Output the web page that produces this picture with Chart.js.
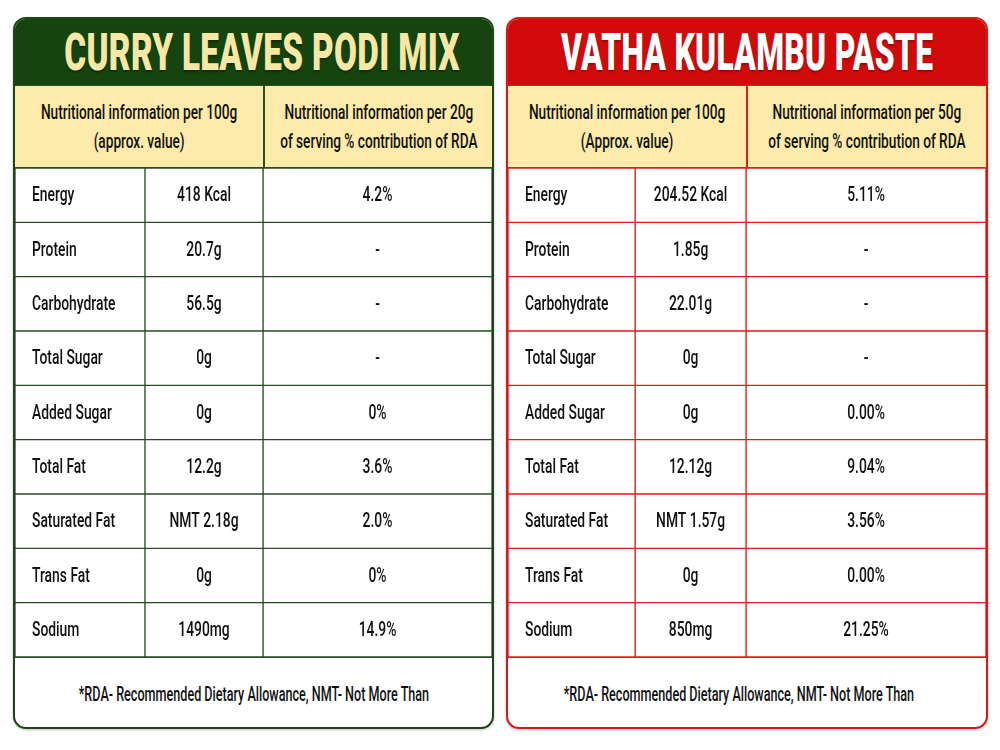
<!DOCTYPE html>
<html>
<head>
<meta charset="utf-8">
<script src="https://cdn.jsdelivr.net/npm/chart.js@4.4.1/dist/chart.umd.min.js"></script>
<style>
  body { margin: 0; background: #ffffff; width: 1000px; height: 750px; overflow: hidden; font-family: "Roboto", sans-serif; }
  .panel { position: absolute; top: 17px; width: 477px; height: 708px; border: 2px solid; border-radius: 13px; overflow: hidden; background: #fff; box-shadow: 0 1px 3px rgba(0,0,0,0.25); }
  .title { height: 66px; display: flex; align-items: center; justify-content: center; }
  .title span { display: inline-block; font-weight: 900; font-size: 52px; transform: scaleX(0.64); white-space: nowrap; letter-spacing: 0.5px; }
  .head { height: 81px; display: flex; border-top: 1px solid; border-bottom: 1px solid; }
  .head div { display: flex; align-items: center; justify-content: center; text-align: center; min-width: 0; }
  .head span, .foot span { display: inline-block; flex-shrink: 0; font-size: 21px; font-weight: 500; line-height: 29px; transform: scaleX(0.65); white-space: nowrap; color: #111; }
  .foot span { transform: scaleX(0.6); }
  .rows { height: 489px; position: relative; }
  .foot { height: 72px; display: flex; align-items: center; justify-content: center; }
</style>
</head>
<body>

<div class="panel" id="leftPanel" style="left:13px; border-color:#1d4519;">
  <div class="title" style="background:#15440f; padding-left:18px;"><span style="color:#f6e8a4; text-shadow:0 2px 2px rgba(0,0,0,0.35);">CURRY LEAVES PODI MIX</span></div>
  <div class="head" style="background:#fcebab; border-color:#2a4d24;">
    <div style="width:248px; flex:none; border-right:2px solid #2a4d24;"><span id="podiHead1"></span></div>
    <div style="flex:1;"><span id="podiHead2"></span></div>
  </div>
  <div class="rows"><canvas id="podiChart"></canvas></div>
  <div class="foot" style="border-top:1px solid #2a4d24;"><span class="note"></span></div>
</div>

<div class="panel" id="rightPanel" style="left:506px; width:478px; border-color:#d81717;">
  <div class="title" style="background:#d10a0c;"><span style="color:#ffffff; transform:scaleX(0.61); text-shadow:0 2px 2px rgba(0,0,0,0.25);">VATHA KULAMBU PASTE</span></div>
  <div class="head" style="background:#fcebab; border-color:#e01c1c;">
    <div style="width:238px; flex:none; border-right:2px solid #e01c1c;"><span id="vathaHead1"></span></div>
    <div style="flex:1;"><span id="vathaHead2"></span></div>
  </div>
  <div class="rows"><canvas id="vathaChart"></canvas></div>
  <div class="foot" style="border-top:1px solid #e01c1c;"><span class="note" style="margin-right:16px;"></span></div>
</div>

<script>
// ---------------- Data ----------------
const nutrients = ["Energy", "Protein", "Carbohydrate", "Total Sugar", "Added Sugar", "Total Fat", "Saturated Fat", "Trans Fat", "Sodium"];

const podiPer100g = ["418 Kcal", "20.7g", "56.5g", "0g", "0g", "12.2g", "NMT 2.18g", "0g", "1490mg"];
const podiRda = ["4.2%", "-", "-", "-", "0%", "3.6%", "2.0%", "0%", "14.9%"];
const podiHeaders = ["Nutritional information per 100g\n(approx. value)", "Nutritional information per 20g\nof serving % contribution of RDA"];

const vathaPer100g = ["204.52 Kcal", "1.85g", "22.01g", "0g", "0g", "12.12g", "NMT 1.57g", "0g", "850mg"];
const vathaRda = ["5.11%", "-", "-", "-", "0.00%", "9.04%", "3.56%", "0.00%", "21.25%"];
const vathaHeaders = ["Nutritional information per 100g\n(Approx. value)", "Nutritional information per 50g\nof serving % contribution of RDA"];

const footNote = "*RDA- Recommended Dietary Allowance, NMT- Not More Than";

// ---------------- Header / footer text ----------------
function setText(id, text) {
  document.getElementById(id).innerHTML = text.replace("\n", "<br>");
}
setText("podiHead1", podiHeaders[0]);
setText("podiHead2", podiHeaders[1]);
setText("vathaHead1", vathaHeaders[0]);
setText("vathaHead2", vathaHeaders[1]);
document.querySelectorAll(".note").forEach((el) => (el.textContent = footNote));

// ---------------- Cell text plugin ----------------
const cellText = {
  id: "cellText",
  afterDatasetsDraw(chart) {
    const ctx = chart.ctx;
    ctx.save();
    ctx.fillStyle = "#111111";
    ctx.font = '500 21px "Roboto", sans-serif';
    ctx.textBaseline = "middle";
    chart.data.datasets.forEach((ds, di) => {
      const meta = chart.getDatasetMeta(di);
      meta.data.forEach((bar, i) => {
        const label = ds.texts[i];
        const left = Math.min(bar.x, bar.base);
        const right = Math.max(bar.x, bar.base);
        ctx.save();
        if (di === 0) {
          ctx.translate(left + 17, bar.y + 1);
          ctx.textAlign = "left";
        } else {
          ctx.translate((left + right) / 2, bar.y + 1);
          ctx.textAlign = "center";
        }
        ctx.scale(0.66, 1);
        ctx.fillText(label, 0, 0);
        ctx.restore();
      });
    });
    ctx.restore();
  },
};

// column edges as fractions of the table width
function makeTable(canvasId, values, rda, edges, lineColor) {
  const columns = [nutrients, values, rda];
  return new Chart(document.getElementById(canvasId), {
    type: "bar",
    data: {
      labels: nutrients,
      datasets: columns.map((texts, c) => ({
        texts: texts,
        data: nutrients.map(() => [edges[c], edges[c + 1]]),
        backgroundColor: "#ffffff",
        borderColor: lineColor,
        borderWidth: 1,
        borderSkipped: false,
      })),
    },
    options: {
      indexAxis: "y",
      responsive: true,
      maintainAspectRatio: false,
      animation: false,
      grouped: false,
      categoryPercentage: 1,
      barPercentage: 1,
      layout: { padding: 0 },
      plugins: { legend: { display: false }, tooltip: { enabled: false } },
      scales: {
        x: { type: "linear", min: 0, max: 1, display: false },
        y: { type: "category", display: false },
      },
    },
    plugins: [cellText],
  });
}

makeTable("podiChart", podiPer100g, podiRda, [0, 0.2725, 0.52, 1], "#2a4d24");
makeTable("vathaChart", vathaPer100g, vathaRda, [0, 0.266, 0.498, 1], "#e01c1c");
</script>
</body>
</html>
